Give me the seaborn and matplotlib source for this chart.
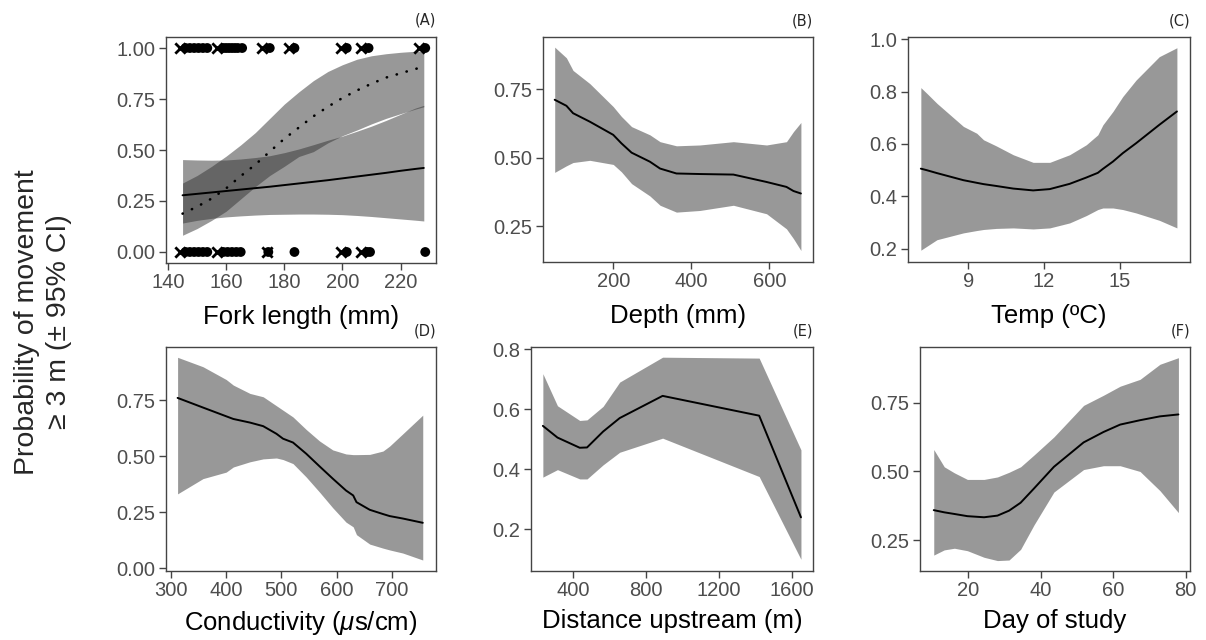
import matplotlib
matplotlib.use("Agg")
import matplotlib.pyplot as plt
import seaborn as sns
import numpy as np
import pandas as pd

# ---- (A) fork length: two fits (solid and dotted) ----
fl_x = [145, 150, 155, 160, 165, 170, 175, 180, 185, 190, 195, 200, 205, 210, 215, 220, 225, 228]
fl_fit1 = [0.278, 0.285, 0.292, 0.299, 0.306, 0.313, 0.320, 0.328, 0.336, 0.344, 0.352, 0.361,
           0.370, 0.379, 0.388, 0.398, 0.407, 0.412]
fl_hi1 = [0.453, 0.451, 0.450, 0.451, 0.456, 0.463, 0.472, 0.487, 0.505, 0.526, 0.548, 0.568,
          0.592, 0.617, 0.645, 0.675, 0.705, 0.719]
fl_lo1 = [0.142, 0.155, 0.165, 0.172, 0.177, 0.181, 0.184, 0.185, 0.186, 0.186, 0.185, 0.183,
          0.179, 0.174, 0.168, 0.162, 0.156, 0.152]
fl_fit2 = [0.188, 0.222, 0.262, 0.312, 0.372, 0.428, 0.492, 0.555, 0.610, 0.665, 0.712, 0.755,
           0.792, 0.825, 0.855, 0.876, 0.897, 0.908]
fl_hi2 = [0.338, 0.375, 0.420, 0.470, 0.525, 0.585, 0.655, 0.725, 0.785, 0.840, 0.885, 0.918,
          0.945, 0.962, 0.972, 0.979, 0.984, 0.986]
fl_lo2 = [0.082, 0.115, 0.155, 0.200, 0.260, 0.320, 0.375, 0.420, 0.468, 0.492, 0.535, 0.570,
          0.598, 0.628, 0.655, 0.678, 0.700, 0.712]

# observed fish (1 = moved, 0 = did not)
moved_dots = [146, 147.5, 149, 150.5, 152, 153.5, 159, 160, 161, 162, 163, 164, 165.5,
              175, 183.5, 201.5, 209, 228.5]
moved_cross = [144, 157, 172.5, 181.5, 199.5, 206.5, 226.5]
stay_dots = [146, 147.5, 149, 150.5, 152, 153.5, 159, 160.5, 162, 163.5, 165, 174.5,
             183.5, 201.5, 208.5, 209.5, 228.5]
stay_cross = [144, 157, 174, 199.5, 206.5]

# ---- (B) depth ----
dep_x = [50, 80, 97, 140, 200, 221, 247, 294, 320, 362, 422, 508, 593, 644, 662, 681]
dep_fit = [0.711, 0.689, 0.662, 0.631, 0.583, 0.552, 0.518, 0.485, 0.460, 0.442, 0.440, 0.438,
           0.411, 0.393, 0.378, 0.369]
dep_hi = [0.903, 0.864, 0.818, 0.770, 0.686, 0.650, 0.613, 0.583, 0.558, 0.543, 0.546, 0.558,
          0.546, 0.558, 0.595, 0.628]
dep_lo = [0.446, 0.470, 0.482, 0.490, 0.475, 0.448, 0.405, 0.360, 0.326, 0.301, 0.307, 0.326,
          0.295, 0.240, 0.204, 0.161]

# ---- (C) temperature ----
tmp_x = [7.11, 7.35, 7.75, 8.8, 9.33, 9.6, 10.1, 10.78, 11.57, 12.23, 13.02, 13.68, 14.14,
         14.34, 14.74, 15.13, 15.66, 16.58, 17.28]
tmp_fit = [0.506, 0.500, 0.489, 0.462, 0.452, 0.447, 0.440, 0.430, 0.423, 0.428, 0.448, 0.472,
           0.490, 0.505, 0.533, 0.565, 0.603, 0.673, 0.724]
tmp_hi = [0.815, 0.793, 0.755, 0.667, 0.641, 0.616, 0.593, 0.559, 0.530, 0.530, 0.559, 0.597,
          0.635, 0.673, 0.724, 0.781, 0.844, 0.933, 0.967]
tmp_lo = [0.195, 0.210, 0.235, 0.261, 0.270, 0.274, 0.278, 0.280, 0.276, 0.280, 0.299, 0.327,
          0.350, 0.356, 0.356, 0.350, 0.337, 0.309, 0.280]

# ---- (D) conductivity ----
con_x = [312, 358, 400, 413, 443, 467, 491, 503, 521, 545, 569, 593, 617, 630, 636, 660, 684,
         696, 720, 756]
con_fit = [0.760, 0.717, 0.678, 0.666, 0.650, 0.634, 0.600, 0.578, 0.561, 0.511, 0.455, 0.400,
           0.347, 0.325, 0.295, 0.261, 0.242, 0.233, 0.222, 0.203]
con_hi = [0.941, 0.899, 0.842, 0.817, 0.780, 0.765, 0.725, 0.705, 0.675, 0.619, 0.568, 0.528,
          0.510, 0.507, 0.507, 0.508, 0.523, 0.545, 0.600, 0.683]
con_lo = [0.332, 0.400, 0.429, 0.452, 0.475, 0.488, 0.492, 0.485, 0.467, 0.407, 0.340, 0.270,
          0.206, 0.185, 0.150, 0.108, 0.090, 0.082, 0.068, 0.037]

# ---- (E) distance upstream ----
dist_x = [235, 315, 437, 477, 565, 656, 891, 1420, 1649]
dist_fit = [0.544, 0.505, 0.471, 0.472, 0.525, 0.570, 0.644, 0.578, 0.239]
dist_hi = [0.718, 0.611, 0.562, 0.564, 0.609, 0.690, 0.773, 0.770, 0.464]
dist_lo = [0.373, 0.398, 0.367, 0.367, 0.414, 0.456, 0.503, 0.375, 0.099]

# ---- (F) day of study ----
day_x = [10.4, 13.3, 16.1, 19.7, 24.3, 28.0, 31.2, 34.4, 38.1, 43.6, 51.8, 57.3, 61.9, 67.4,
         72.9, 78.0]
day_fit = [0.359, 0.351, 0.345, 0.337, 0.333, 0.339, 0.357, 0.386, 0.438, 0.517, 0.606, 0.644,
           0.671, 0.687, 0.701, 0.708]
day_hi = [0.580, 0.517, 0.495, 0.471, 0.471, 0.480, 0.497, 0.517, 0.560, 0.626, 0.741, 0.778,
          0.811, 0.836, 0.891, 0.915]
day_lo = [0.195, 0.214, 0.220, 0.211, 0.187, 0.175, 0.177, 0.216, 0.305, 0.425, 0.507, 0.521,
          0.521, 0.500, 0.430, 0.350]

sns.set_style("ticks")
plt.rcParams['font.family'] = ['Liberation Sans', 'DejaVu Sans']
plt.rcParams['mathtext.fontset'] = 'custom'
plt.rcParams['mathtext.it'] = 'Liberation Sans:italic'
plt.rcParams['mathtext.rm'] = 'Liberation Sans'

W, H = 1206, 640
fig = plt.figure(figsize=(W / 100, H / 100), dpi=100)


def make_ax(l, r, t, b):
    return fig.add_axes([l / W, 1 - b / H, (r - l) / W, (b - t) / H])


def style_ax(ax, xlabel, xlim, ylim, xticks, yticks, yfmt, tag, pad):
    ax.set_xlim(*xlim)
    ax.set_ylim(*ylim)
    ax.set_xticks(xticks)
    ax.set_yticks(yticks)
    ax.set_yticklabels([yfmt.format(v) for v in yticks])
    ax.set_xlabel(xlabel, fontsize=18.5, labelpad=pad, color="black")
    ax.set_ylabel("")
    for s in ax.spines.values():
        s.set_visible(True)
        s.set_color("#444444")
        s.set_linewidth(1.0)
    ax.tick_params(axis="both", direction="out", length=5, width=1.0, color="#444444",
                   labelcolor="#4d4d4d", labelsize=14.5, pad=2.5)
    ax.text(1.0, 1.04, tag, transform=ax.transAxes, ha="right", va="bottom", fontsize=10.5,
            family=["DejaVu Sans"])


def band_panel(ax, xs, fit, lo, hi):
    ax.fill_between(xs, lo, hi, color="#333333", alpha=0.5, lw=0)
    df = pd.DataFrame({"x": xs, "y": fit})
    sns.lineplot(data=df, x="x", y="y", ax=ax, color="black", lw=1.4)


# panel A
axA = make_ax(166, 436, 37, 263)
axA.fill_between(fl_x, fl_lo1, fl_hi1, color="#333333", alpha=0.5, lw=0)
axA.fill_between(fl_x, fl_lo2, fl_hi2, color="#333333", alpha=0.5, lw=0)
sns.lineplot(x=fl_x, y=fl_fit1, ax=axA, color="black", lw=1.4)
sns.lineplot(x=fl_x, y=fl_fit2, ax=axA, color="black", lw=1.9,
             linestyle=(0, (0.1, 3.8)), dash_capstyle="round")
pts_dot = pd.DataFrame({"x": moved_dots + stay_dots,
                        "y": [1.0] * len(moved_dots) + [0.0] * len(stay_dots)})
pts_x = pd.DataFrame({"x": moved_cross + stay_cross,
                      "y": [1.0] * len(moved_cross) + [0.0] * len(stay_cross)})
sns.scatterplot(data=pts_dot, x="x", y="y", ax=axA, color="black", marker="o", s=50,
                edgecolor="none", zorder=5, clip_on=False)
sns.scatterplot(data=pts_x, x="x", y="y", ax=axA, color="black", marker="x", s=55,
                linewidth=2.0, zorder=5, clip_on=False)
style_ax(axA, "Fork length (mm)", (139.3, 232.2), (-0.054, 1.054),
         [140, 160, 180, 200, 220], [0, 0.25, 0.5, 0.75, 1.0], "{:.2f}", "(A)", 9)

axB = make_ax(543, 813, 37, 262)
band_panel(axB, dep_x, dep_fit, dep_lo, dep_hi)
style_ax(axB, "Depth (mm)", (20, 712), (0.119, 0.94), [200, 400, 600],
         [0.25, 0.5, 0.75], "{:.2f}", "(B)", 9)

axC = make_ax(908, 1190, 37, 262)
band_panel(axC, tmp_x, tmp_fit, tmp_lo, tmp_hi)
style_ax(axC, "Temp (ºC)", (6.6, 17.8), (0.15, 1.008), [9, 12, 15],
         [0.2, 0.4, 0.6, 0.8, 1.0], "{:.1f}", "(C)", 9)

axD = make_ax(166, 436, 347, 571)
band_panel(axD, con_x, con_fit, con_lo, con_hi)
style_ax(axD, r"Conductivity ($\mu$s/cm)", (291, 780), (-0.012, 0.987),
         [300, 400, 500, 600, 700], [0, 0.25, 0.5, 0.75], "{:.2f}", "(D)", 6)

axE = make_ax(531, 813, 347, 571)
band_panel(axE, dist_x, dist_fit, dist_lo, dist_hi)
style_ax(axE, "Distance upstream (m)", (170, 1715), (0.06, 0.807),
         [400, 800, 1200, 1600], [0.2, 0.4, 0.6, 0.8], "{:.1f}", "(E)", 6)

axF = make_ax(920, 1190, 347, 571)
band_panel(axF, day_x, day_fit, day_lo, day_hi)
style_ax(axF, "Day of study", (6.6, 81.2), (0.137, 0.954), [20, 40, 60, 80],
         [0.25, 0.5, 0.75], "{:.2f}", "(F)", 6)

fig.text(0.036, 0.497, "Probability of movement\n≥ 3 m (± 95% CI)", rotation=90,
         ha="center", va="center", fontsize=20.5, linespacing=1.3)

fig.savefig("out.png", dpi=100)
